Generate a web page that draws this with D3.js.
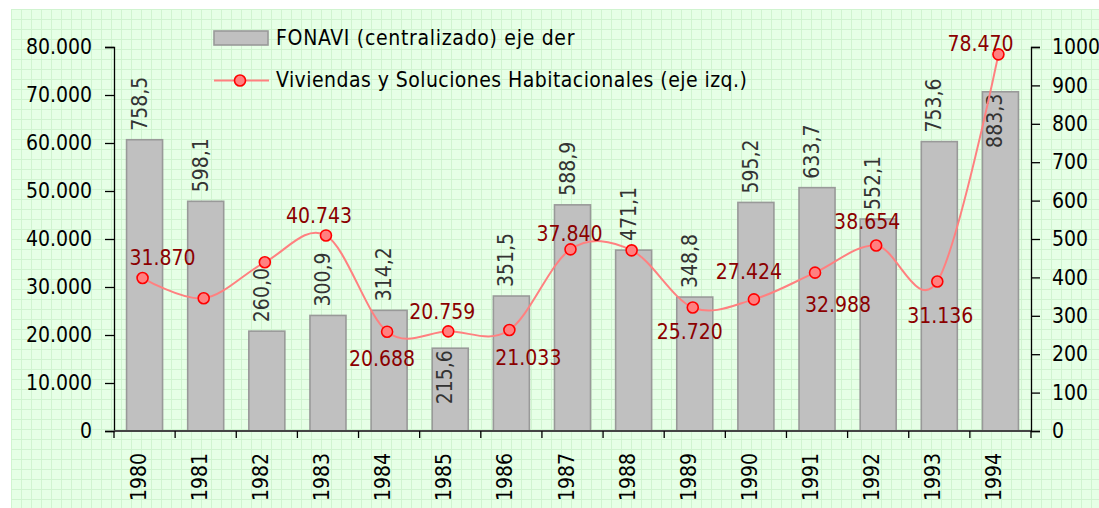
<!DOCTYPE html>
<html>
<head>
<meta charset="utf-8">
<script src="https://d3js.org/d3.v7.min.js"></script>
<style>
  body { margin: 0; background: #fff; }
  svg text { font-family: "DejaVu Sans Condensed", "DejaVu Sans", sans-serif; font-size: 21px; }
</style>
</head>
<body>
<svg width="1099" height="508"></svg>
<script>
// data
const years = ["1980","1981","1982","1983","1984","1985","1986","1987","1988","1989","1990","1991","1992","1993","1994"];
const fonavi = [758.5, 598.1, 260.0, 300.9, 314.2, 215.6, 351.5, 588.9, 471.1, 348.8, 595.2, 633.7, 552.1, 753.6, 883.3];
const viviendas = [31870, 27650, 35150, 40743, 20688, 20759, 21033, 37840, 37640, 25720, 27424, 32988, 38654, 31136, 78470];
// which points carry a label in the original
const viviendasLabeled = [true, false, false, true, true, true, true, true, false, true, true, true, true, true, true];
const leftTicks = [0, 10000, 20000, 30000, 40000, 50000, 60000, 70000, 80000];
const rightTicks = [0, 100, 200, 300, 400, 500, 600, 700, 800, 900, 1000];

// label placement (layout only)
const barLabelInside = [false,false,false,false,false,true,false,false,false,false,false,false,false,false,true];
const lineLabelOffset = [[20,-21],[0,0],[0,0],[-7,-20],[-5,27],[-6,-20],[19,27],[-1,-16],[0,0],[-3,24],[-5,-28],[23,32],[-9,-24],[3,34],[-18,-11]];

const svg = d3.select("svg");
const plotL = 114, plotR = 1031, plotT = 47, plotB = 431;

const loc = d3.formatLocale({decimal: ",", thousands: ".", grouping: [3], currency: ["", ""]});
const fmtThousands = loc.format(",d");
const fmtDec = loc.format(",.1f");

// background with grid
const defs = svg.append("defs");
const pat = defs.append("pattern").attr("id", "grid")
  .attr("width", 10).attr("height", 10).attr("patternUnits", "userSpaceOnUse")
  .attr("x", 11).attr("y", 9);
pat.append("rect").attr("width", 10).attr("height", 10).attr("fill", "#e6ffe6");
pat.append("path").attr("d", "M0,0.5H10M0.5,0V10").attr("stroke", "#d0f4d0").attr("stroke-width", 1);
svg.append("rect").attr("x", 11).attr("y", 9).attr("width", 1088).attr("height", 499).attr("fill", "url(#grid)");

const xc = d3.scaleBand().domain(years).range([plotL, plotR]);
const yL = d3.scaleLinear().domain([0, 80000]).range([plotB, plotT]);
const yR = d3.scaleLinear().domain([0, 1000]).range([plotB, plotT]);
const mid = i => xc(years[i]) + xc.bandwidth() / 2;

// bars
svg.append("g").selectAll("rect").data(fonavi).join("rect")
  .attr("x", (d, i) => mid(i) - 18)
  .attr("width", 36)
  .attr("y", d => yR(d))
  .attr("height", d => plotB - yR(d))
  .attr("fill", "#c0c0c0").attr("stroke", "#999").attr("stroke-width", 1.6);

// axes
const axL = svg.append("g").attr("transform", `translate(${plotL},0)`)
  .call(d3.axisLeft(yL).tickValues(leftTicks).tickFormat(d => fmtThousands(d)).tickSize(9).tickPadding(13));
const axR = svg.append("g").attr("transform", `translate(${plotR},0)`)
  .call(d3.axisRight(yR).tickValues(rightTicks).tickFormat(d3.format("d")).tickSize(9).tickPadding(12));
[axL, axR].forEach(a => {
  a.select(".domain").attr("stroke", "#000").attr("stroke-width", 1.3);
  a.selectAll(".tick line").attr("stroke", "#000").attr("stroke-width", 1.3);
  a.selectAll("text").attr("fill", "#000").style("font-size", "21px")
    .style("font-family", "'DejaVu Sans Condensed', 'DejaVu Sans', sans-serif");
});

// x axis: line and ticks between categories
const gx = svg.append("g");
gx.append("line").attr("x1", plotL).attr("x2", plotR).attr("y1", plotB).attr("y2", plotB)
  .attr("stroke", "#444").attr("stroke-width", 2);
gx.selectAll("line.t").data(d3.range(years.length + 1)).join("line").attr("class", "t")
  .attr("x1", i => plotL + i * xc.step()).attr("x2", i => plotL + i * xc.step())
  .attr("y1", plotB).attr("y2", plotB + 7).attr("stroke", "#000").attr("stroke-width", 1.3);
gx.selectAll("text").data(years).join("text")
  .attr("transform", (d, i) => `translate(${mid(i) + 1},453) rotate(-90)`)
  .attr("text-anchor", "end")
  .attr("fill", "#000")
  .text(d => d);

// bar labels
svg.append("g").selectAll("text").data(fonavi).join("text")
  .attr("transform", (d, i) => {
    const ty = barLabelInside[i] ? yR(d) + 2 : yR(d) - 9;
    return `translate(${mid(i) + 2},${ty}) rotate(-90)`;
  })
  .attr("text-anchor", (d, i) => barLabelInside[i] ? "end" : "start")
  .attr("fill", "#333")
  .text(d => fmtDec(d));

// line
const px = i => mid(i) - 2;
const line = d3.line().x((d, i) => px(i)).y(d => yL(d)).curve(d3.curveCardinal.tension(0));
svg.append("path").datum(viviendas).attr("d", line)
  .attr("fill", "none").attr("stroke", "#ff8080").attr("stroke-width", 2);
svg.append("g").selectAll("circle").data(viviendas).join("circle")
  .attr("cx", (d, i) => px(i)).attr("cy", d => yL(d)).attr("r", 5.5)
  .attr("fill", "#ff8080").attr("stroke", "#ff0000").attr("stroke-width", 1.6);

// line labels
const lbl = viviendas.map((v, i) => ({v, i})).filter(d => viviendasLabeled[d.i]);
svg.append("g").selectAll("text").data(lbl).join("text")
  .attr("x", d => px(d.i) + lineLabelOffset[d.i][0])
  .attr("y", d => yL(d.v) + lineLabelOffset[d.i][1])
  .attr("dy", "0.36em")
  .attr("text-anchor", "middle")
  .attr("fill", "#8b0000")
  .text(d => fmtThousands(d.v));

// legend
const lg = svg.append("g");
lg.append("rect").attr("x", 214).attr("y", 31).attr("width", 54).attr("height", 14)
  .attr("fill", "#c0c0c0").attr("stroke", "#999").attr("stroke-width", 1.6);
lg.append("text").attr("x", 276).attr("y", 45).attr("fill", "#000")
  .attr("letter-spacing", "0.7px").text("FONAVI (centralizado) eje der");
lg.append("line").attr("x1", 214).attr("x2", 269).attr("y1", 80.5).attr("y2", 80.5)
  .attr("stroke", "#ff8080").attr("stroke-width", 2);
lg.append("circle").attr("cx", 240).attr("cy", 80.5).attr("r", 5.5)
  .attr("fill", "#ff8080").attr("stroke", "#ff0000").attr("stroke-width", 1.6);
lg.append("text").attr("x", 276).attr("y", 87).attr("fill", "#000")
  .attr("letter-spacing", "0.45px").text("Viviendas y Soluciones Habitacionales (eje izq.)");
</script>
</body>
</html>
